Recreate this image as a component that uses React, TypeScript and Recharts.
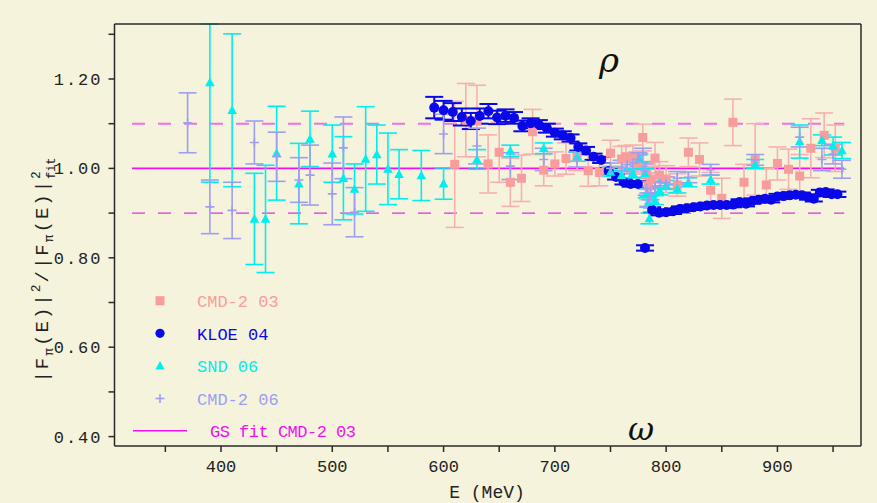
import React from "react";
import { ScatterChart, Scatter, XAxis, YAxis, ErrorBar, ReferenceLine } from "recharts";

const BG = "#F5F3DC";
const C_CMD03 = "#F99C9C";
const C_CMD03_BAR = "#F7B0B0";
const C_KLOE = "#0808E8";
const C_SND = "#00EEEE";
const C_CMD06 = "#9E9EF0";
const C_FIT = "#F010F0";
const AXIS = "#2A2A2A";
const MONO = "'Liberation Mono', 'DejaVu Sans Mono', monospace";

const xTicks = [350, 400, 450, 500, 550, 600, 650, 700, 750, 800, 850, 900, 950];
const yTicks = [0.4, 0.5, 0.6, 0.7, 0.8, 0.9, 1.0, 1.1, 1.2, 1.3];
const xDomain = [304.3, 975.1];
const yDomain = [0.379, 1.323];
const fitRange = [320, 960];
const fitLevel = 1.0;
const bandLevels = [1.1, 0.9];

// CMD-2 03
const E_CMD03 = [610, 620, 630, 640, 650, 660, 670, 680, 690, 700, 710, 720, 730, 740, 750, 760, 764, 770, 774, 779, 782, 784, 786, 790, 794, 800, 810, 820, 830, 840, 850, 860, 870, 880, 890, 900, 910, 920, 930, 942, 952];
const V_CMD03 = [1.009, 1.108, 1.106, 1.010, 1.036, 0.969, 0.978, 1.082, 0.996, 1.010, 1.022, 1.025, 0.995, 0.991, 1.034, 1.021, 1.026, 1.022, 1.012, 1.069, 0.985, 0.960, 0.975, 1.023, 0.985, 0.976, 0.963, 1.036, 1.020, 0.951, 0.933, 1.103, 0.969, 1.020, 0.963, 1.011, 0.998, 0.983, 1.045, 1.074, 1.045];
const ERR_CMD03 = [0.141, 0.082, 0.080, 0.065, 0.067, 0.054, 0.052, 0.050, 0.035, 0.027, 0.035, 0.030, 0.035, 0.030, 0.029, 0.028, 0.025, 0.030, 0.025, 0.030, 0.030, 0.030, 0.030, 0.035, 0.030, 0.030, 0.025, 0.032, 0.037, 0.040, 0.045, 0.052, 0.040, 0.080, 0.037, 0.037, 0.045, 0.048, 0.066, 0.050, 0.052];

// KLOE 04
const E_KLOE = [591.6, 600.0, 608.3, 616.4, 624.5, 632.5, 640.3, 648.1, 655.7, 663.3, 670.8, 678.2, 685.6, 692.8, 700.0, 707.1, 714.1, 721.1, 728.0, 734.8, 741.6, 748.3, 755.0, 761.6, 768.1, 774.6, 781.0, 787.4, 793.7, 800.0, 806.2, 812.4, 818.5, 824.6, 830.7, 836.7, 842.6, 848.5, 854.4, 860.2, 866.0, 871.8, 877.5, 883.2, 888.8, 894.4, 900.0, 905.5, 911.0, 916.5, 922.0, 927.4, 932.7, 938.1, 943.4, 948.7, 953.9];
const V_KLOE = [1.136, 1.130, 1.126, 1.115, 1.106, 1.117, 1.128, 1.114, 1.118, 1.113, 1.095, 1.101, 1.098, 1.090, 1.080, 1.074, 1.068, 1.048, 1.040, 1.026, 1.019, 0.994, 0.981, 0.970, 0.965, 0.965, 0.822, 0.907, 0.901, 0.902, 0.904, 0.909, 0.911, 0.913, 0.915, 0.917, 0.918, 0.918, 0.918, 0.919, 0.925, 0.921, 0.927, 0.930, 0.932, 0.930, 0.937, 0.938, 0.940, 0.941, 0.940, 0.936, 0.932, 0.946, 0.947, 0.942, 0.942];
const ERR_KLOE = [0.024, 0.021, 0.020, 0.019, 0.018, 0.017, 0.016, 0.015, 0.014, 0.013, 0.012, 0.011, 0.010, 0.010, 0.009, 0.009, 0.008, 0.008, 0.008, 0.007, 0.007, 0.007, 0.006, 0.006, 0.006, 0.006, 0.006, 0.006, 0.006, 0.006, 0.006, 0.006, 0.006, 0.006, 0.006, 0.006, 0.006, 0.006, 0.006, 0.006, 0.006, 0.006, 0.006, 0.006, 0.006, 0.006, 0.006, 0.006, 0.006, 0.006, 0.006, 0.006, 0.006, 0.006, 0.006, 0.006, 0.006];

// SND 06
const E_SND = [390, 410, 430, 440, 450, 470, 480, 500, 510, 520, 530, 540, 550, 560, 580, 600, 630, 660, 690, 720, 750, 760, 770, 776, 781, 782.5, 784, 785, 790, 794, 800, 810, 820, 840, 880, 920, 940, 950, 958];
const V_SND = [1.192, 1.130, 0.887, 0.887, 1.034, 0.966, 1.066, 1.033, 0.978, 0.954, 1.021, 1.031, 0.999, 0.987, 0.984, 0.966, 1.020, 1.039, 1.045, 1.026, 0.992, 0.985, 0.989, 1.022, 0.989, 0.944, 0.925, 0.888, 0.929, 0.951, 0.963, 0.955, 0.969, 0.975, 1.010, 1.060, 1.063, 1.050, 1.040];
const ERR_SND = [0.223, 0.171, 0.102, 0.120, 0.105, 0.090, 0.062, 0.064, 0.093, 0.056, 0.117, 0.066, 0.080, 0.055, 0.056, 0.035, 0.022, 0.013, 0.012, 0.010, 0.010, 0.010, 0.010, 0.010, 0.010, 0.010, 0.012, 0.012, 0.010, 0.010, 0.010, 0.010, 0.010, 0.010, 0.010, 0.037, 0.012, 0.020, 0.018];

// CMD-2 06
const E_CMD06 = [370, 390, 410, 430, 450, 470, 480, 500, 510, 520, 600, 630, 660, 690, 720, 750, 760, 765, 770, 775, 779, 781, 782.5, 784, 786, 790, 795, 800, 810, 820, 840, 880, 920, 940, 950, 958];
const V_CMD06 = [1.102, 0.914, 0.906, 1.058, 1.026, 0.974, 0.985, 0.943, 1.046, 0.902, 1.077, 1.050, 1.005, 1.020, 1.020, 1.000, 1.003, 1.008, 1.012, 1.020, 1.030, 0.995, 0.955, 0.930, 0.945, 0.958, 0.968, 0.968, 0.978, 0.980, 0.997, 1.019, 1.070, 1.020, 1.032, 0.998];
const ERR_CMD06 = [0.067, 0.060, 0.063, 0.048, 0.055, 0.050, 0.067, 0.069, 0.069, 0.055, 0.044, 0.040, 0.030, 0.025, 0.017, 0.012, 0.015, 0.015, 0.015, 0.015, 0.015, 0.015, 0.015, 0.015, 0.015, 0.013, 0.013, 0.013, 0.015, 0.012, 0.012, 0.012, 0.022, 0.025, 0.022, 0.020];

// error bars are cut at the frame, as in the original plot
const build = (E: number[], V: number[], ERR: number[]) =>
  E.map((x, i) => ({
    x,
    y: V[i],
    err: [Math.min(ERR[i], V[i] - yDomain[0]), Math.min(ERR[i], yDomain[1] - V[i])],
  }));
const dCMD03 = build(E_CMD03, V_CMD03, ERR_CMD03);
const dKLOE = build(E_KLOE, V_KLOE, ERR_KLOE);
const dSND = build(E_SND, V_SND, ERR_SND);
const dCMD06 = build(E_CMD06, V_CMD06, ERR_CMD06);

const SquareShape = (p: any) => <rect x={p.cx - 4.5} y={p.cy - 4.5} width={9} height={9} fill={C_CMD03} />;
const CircleShape = (p: any) => <circle cx={p.cx} cy={p.cy} r={5} fill={C_KLOE} />;
const TriShape = (p: any) => <polygon points={`${p.cx},${p.cy - 5} ${p.cx - 4.8},${p.cy + 3.8} ${p.cx + 4.8},${p.cy + 3.8}`} fill={C_SND} />;
const PlusShape = (p: any) => (
  <g stroke={C_CMD06} strokeWidth={1.6}>
    <line x1={p.cx - 4.5} y1={p.cy} x2={p.cx + 4.5} y2={p.cy} />
    <line x1={p.cx} y1={p.cy - 4.5} x2={p.cx} y2={p.cy + 4.5} />
  </g>
);

const legendItems = [
  { label: "CMD-2 03", color: C_CMD03, kind: "square" },
  { label: "KLOE 04", color: C_KLOE, kind: "circle" },
  { label: "SND 06", color: C_SND, kind: "tri" },
  { label: "CMD-2 06", color: C_CMD06, kind: "plus" },
];

const xFmt = (v: number) => (v % 100 === 0 ? String(v) : "");
const yFmt = (v: number) => (Math.round(v * 10) % 2 === 0 ? v.toFixed(2) : "");

export default function App() {
  const tickStyle = { fontFamily: MONO, fontSize: 17, fill: "#222" };
  return (
    <div style={{ position: "fixed", left: 0, top: 0, width: 877, height: 503, background: BG, overflow: "hidden" }}>
      <ScatterChart width={877} height={503} margin={{ top: 23, right: 15, bottom: 0, left: 0 }}>
        <XAxis xAxisId={0} type="number" dataKey="x" domain={xDomain} ticks={xTicks} interval={0} allowDataOverflow
          height={57} tickSize={6} tickMargin={8} tickFormatter={xFmt} tick={tickStyle}
          stroke={AXIS} strokeWidth={1.5} tickLine={{ stroke: AXIS, strokeWidth: 1.5 }} />
        <XAxis xAxisId="top" orientation="top" type="number" domain={xDomain} ticks={xTicks} interval={0} allowDataOverflow
          height={1} tickSize={6} tick={false} stroke={AXIS} strokeWidth={1.5} tickLine={{ stroke: AXIS, strokeWidth: 1.5 }} />
        <YAxis yAxisId={0} type="number" dataKey="y" domain={yDomain} ticks={yTicks} interval={0} allowDataOverflow
          width={114.5} tickSize={6} tickMargin={6} tickFormatter={yFmt} tick={{ ...tickStyle, letterSpacing: 2 }}
          stroke={AXIS} strokeWidth={1.5} tickLine={{ stroke: AXIS, strokeWidth: 1.5 }} />
        <YAxis yAxisId="right" orientation="right" type="number" domain={yDomain} ticks={yTicks} interval={0} allowDataOverflow
          width={1} tickSize={6} tick={false} stroke={AXIS} strokeWidth={1.5} tickLine={{ stroke: AXIS, strokeWidth: 1.5 }} />

        <ReferenceLine segment={[{ x: fitRange[0], y: bandLevels[0] }, { x: fitRange[1], y: bandLevels[0] }]}
          stroke="#F070EA" strokeWidth={2} strokeDasharray="13 13" ifOverflow="hidden" />
        <ReferenceLine segment={[{ x: fitRange[0], y: bandLevels[1] }, { x: fitRange[1], y: bandLevels[1] }]}
          stroke="#E030E0" strokeWidth={1.3} strokeDasharray="13 13" ifOverflow="hidden" />
        <ReferenceLine segment={[{ x: fitRange[0], y: fitLevel }, { x: fitRange[1], y: fitLevel }]}
          stroke={C_FIT} strokeWidth={1.6} ifOverflow="hidden" />

        <Scatter data={dCMD03} isAnimationActive={false} shape={SquareShape}>
          <ErrorBar dataKey="err" direction="y" width={9} stroke={C_CMD03_BAR} strokeWidth={1.6} />
        </Scatter>
        <Scatter data={dKLOE} isAnimationActive={false} shape={CircleShape}>
          <ErrorBar dataKey="err" direction="y" width={9} stroke={C_KLOE} strokeWidth={2} />
        </Scatter>
        <Scatter data={dSND} isAnimationActive={false} shape={TriShape}>
          <ErrorBar dataKey="err" direction="y" width={9} stroke={C_SND} strokeWidth={1.6} />
        </Scatter>
        <Scatter data={dCMD06} isAnimationActive={false} shape={PlusShape}>
          <ErrorBar dataKey="err" direction="y" width={9} stroke={C_CMD06} strokeWidth={1.6} />
        </Scatter>
      </ScatterChart>

      <svg width={877} height={503} style={{ position: "absolute", left: 0, top: 0, pointerEvents: "none" }}>
        {legendItems.map((it, i) => {
          const cy = 300.7 + i * 32.6;
          const cx = 160;
          return (
            <g key={it.label}>
              {it.kind === "square" && <rect x={cx - 4.5} y={cy - 4.5} width={9} height={9} fill={it.color} />}
              {it.kind === "circle" && <circle cx={cx} cy={cy} r={4.6} fill={it.color} />}
              {it.kind === "tri" && <polygon points={`${cx},${cy - 5} ${cx - 4.6},${cy + 3.5} ${cx + 4.6},${cy + 3.5}`} fill={it.color} />}
              {it.kind === "plus" && (
                <g stroke={it.color} strokeWidth={1.6}>
                  <line x1={cx - 4.5} y1={cy} x2={cx + 4.5} y2={cy} />
                  <line x1={cx} y1={cy - 4.5} x2={cx} y2={cy + 4.5} />
                </g>
              )}
              <text x={197} y={cy + 6.5} fontFamily={MONO} fontSize={17} fill={it.color}>{it.label}</text>
            </g>
          );
        })}
        <line x1={133} y1={430.7} x2={187} y2={430.7} stroke={C_FIT} strokeWidth={1.6} />
        <text x={210} y={437} fontFamily={MONO} fontSize={17} fill={C_FIT} letterSpacing={-0.5}>GS fit CMD-2 03</text>

        <text x={487} y={498} textAnchor="middle" fontFamily={MONO} fontSize={18} fill="#222">E (MeV)</text>

        <text transform="translate(48,270) rotate(-90)" textAnchor="middle" fontFamily={MONO} fontSize={19} fill="#222" letterSpacing={2}>
          |F<tspan dy={5} fontSize={13}>π</tspan>
          <tspan dy={-5}>(E)|</tspan>
          <tspan dy={-8} fontSize={13}>2</tspan>
          <tspan dy={8}>/|F</tspan>
          <tspan dy={5} fontSize={13}>π</tspan>
          <tspan dy={-5}>(E)|</tspan>
          <tspan dy={-8} fontSize={13}>2</tspan>
          <tspan dx={-10} dy={15} fontSize={12} letterSpacing={0}>fit</tspan>
        </text>

        <text x={609} y={72} textAnchor="middle" fontFamily="'DejaVu Serif', serif" fontStyle="italic" fontSize={34} fill="#111">ρ</text>
        <text x={641} y={440} textAnchor="middle" fontFamily="'DejaVu Serif', serif" fontStyle="italic" fontSize={32} fill="#111">ω</text>
      </svg>
    </div>
  );
}
